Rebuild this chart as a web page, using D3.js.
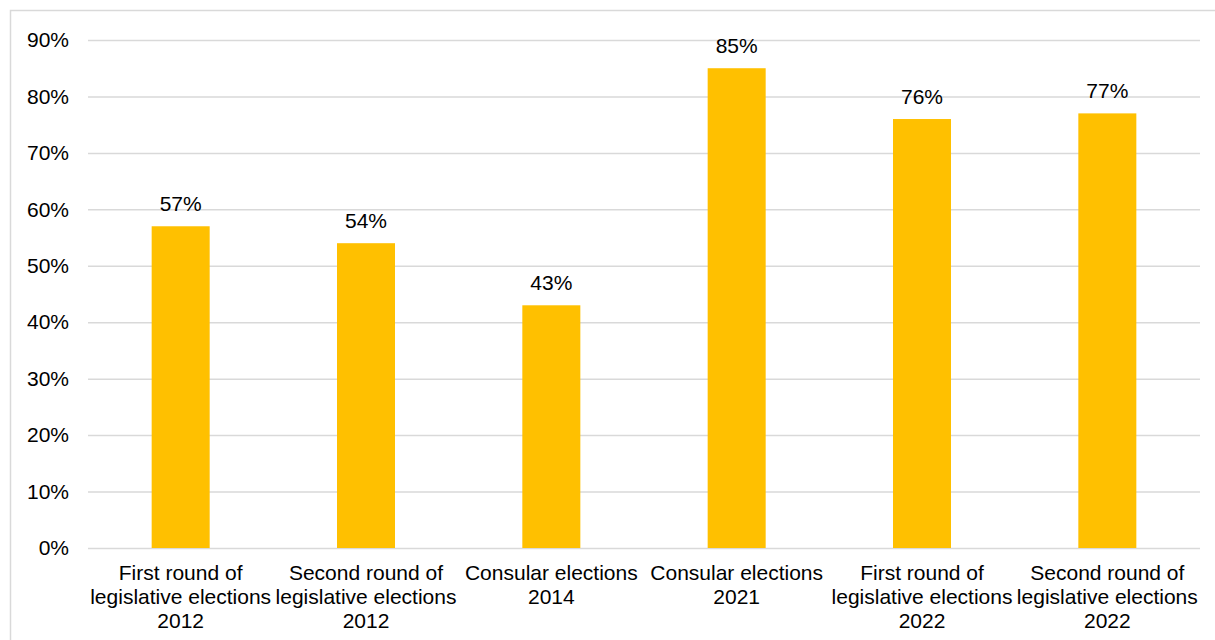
<!DOCTYPE html>
<html>
<head>
<meta charset="utf-8">
<script src="https://cdn.jsdelivr.net/npm/d3@7"></script>
<style>
  body { margin: 0; background: #fff; }
</style>
</head>
<body>
<div id="chart"></div>
<script>
// categories (one line per label row)
const categories = [
    ["First round of", "legislative elections", "2012"],
    ["Second round of", "legislative elections", "2012"],
    ["Consular elections", "2014"],
    ["Consular elections", "2021"],
    ["First round of", "legislative elections", "2022"],
    ["Second round of", "legislative elections", "2022"]
];
const values = [57, 54, 43, 85, 76, 77];
const yTicks = [0, 10, 20, 30, 40, 50, 60, 70, 80, 90];

function barChart(htmlIdorClass) {
    const width = 1215;
    const height = 640;
    const marginTop = 40;
    const marginRight = 15;
    const marginBottom = 92;
    const marginLeft = 88;
    const font = "21px 'Liberation Sans', Arial, sans-serif";

    const keys = categories.map((d, i) => i);

    const x = d3.scaleBand()
        .domain(keys)
        .range([marginLeft, width - marginRight])
        .paddingInner(0.687)
        .paddingOuter(0.3435);

    const y = d3.scaleLinear()
        .domain([0, 90])
        .range([height - marginBottom, marginTop]);

    const svg = d3.select(htmlIdorClass).append("svg")
        .attr("width", width)
        .attr("height", height)
        .attr("viewBox", [0, 0, width, height])
        .attr("style", `font: ${font};`);

    // cadre
    svg.append("rect")
        .attr("x", 10.5)
        .attr("y", 10.5)
        .attr("width", width + 10)
        .attr("height", height + 10)
        .attr("fill", "none")
        .attr("stroke", "#d9d9d9")
        .attr("stroke-width", 1.5);

    // grille + axe y
    const yAxis = svg.append("g")
        .attr("transform", `translate(${marginLeft},0)`)
        .call(d3.axisLeft(y)
            .tickValues(yTicks)
            .tickSize(-(width - marginRight - marginLeft))
            .tickPadding(19)
            .tickFormat(d => d + "%"));
    yAxis.select(".domain").remove();
    yAxis.selectAll(".tick line")
        .attr("stroke", "#d9d9d9")
        .attr("stroke-width", 1.5);
    yAxis.selectAll(".tick text")
        .attr("fill", "#000")
        .style("font", font);

    // barres
    svg.append("g")
        .selectAll("rect")
        .data(values)
        .join("rect")
        .attr("x", (d, i) => x(i))
        .attr("y", d => y(d))
        .attr("width", x.bandwidth())
        .attr("height", d => y(0) - y(d))
        .attr("fill", "#FFC000");

    // étiquettes de valeur
    svg.append("g")
        .selectAll("text")
        .data(values)
        .join("text")
        .attr("x", (d, i) => x(i) + x.bandwidth() / 2)
        .attr("y", d => y(d) - 15)
        .attr("text-anchor", "middle")
        .attr("fill", "#000")
        .text(d => d + "%");

    // étiquettes des catégories
    const labels = svg.append("g")
        .selectAll("text")
        .data(categories)
        .join("text")
        .attr("x", (d, i) => x(i) + x.bandwidth() / 2)
        .attr("y", height - marginBottom + 32)
        .attr("text-anchor", "middle")
        .attr("fill", "#000");

    labels.selectAll("tspan")
        .data(d => d)
        .join("tspan")
        .attr("x", function () { return this.parentNode.getAttribute("x"); })
        .attr("dy", (d, i) => i === 0 ? 0 : 24)
        .text(d => d);
}

barChart("#chart");
</script>
</body>
</html>
